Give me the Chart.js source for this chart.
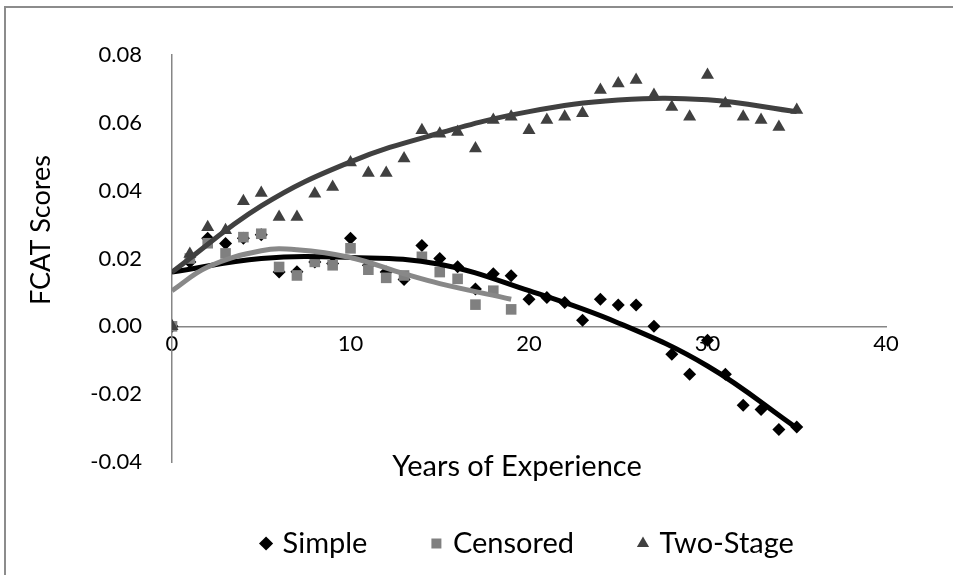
<!DOCTYPE html>
<html lang="en">
<head>
    <meta charset="UTF-8">
    <title>FCAT Scores - Years of Experience</title>
    <script src="https://cdn.jsdelivr.net/npm/chart.js"></script>
    <style>
        html, body { margin: 0; padding: 0; overflow: hidden; background: #fff; }
        .moldura {
            position: absolute; left: 4px; top: 6px;
            width: 1000px; height: 1000px;
            border: 2px solid #8c8c8c;
        }
        .grafico { position: absolute; left: 0; top: 0; width: 953px; height: 575px; }
    </style>
</head>
<body>
    <div class="moldura"></div>
    <div class="grafico">
        <canvas id="myChart"></canvas>
    </div>
<script>
    // values
    const anos = [0, 1, 2, 3, 4, 5, 6, 7, 8, 9, 10, 11, 12, 13, 14, 15, 16, 17,
        18, 19, 20, 21, 22, 23, 24, 25, 26, 27, 28, 29, 30, 31, 32, 33, 34, 35];
    const simple = [0, 0.019, 0.026, 0.0244, 0.026, 0.027, 0.016, 0.0161, 0.019, 0.0185,
        0.026, 0.018, 0.016, 0.0138, 0.0238, 0.020, 0.0176, 0.011, 0.0155, 0.0149,
        0.008, 0.0085, 0.007, 0.0018, 0.008, 0.0063, 0.0063, 0.0, -0.0082, -0.0141,
        -0.0041, -0.0141, -0.0233, -0.0245, -0.0304, -0.0297];
    const anosCensored = [0, 1, 2, 3, 4, 5, 6, 7, 8, 9, 10, 11, 12, 13, 14, 15, 16, 17, 18, 19];
    const censored = [0, 0.020, 0.0245, 0.0215, 0.0263, 0.0273, 0.0175, 0.015, 0.019, 0.018,
        0.023, 0.0167, 0.0143, 0.015, 0.0205, 0.016, 0.014, 0.0064, 0.0105, 0.005];
    const twoStage = [0, 0.0213, 0.0292, 0.0283, 0.0369, 0.0393, 0.0322, 0.0322, 0.0391, 0.0411,
        0.0483, 0.0452, 0.0452, 0.0495, 0.0578, 0.0568, 0.0573, 0.0524, 0.0608, 0.0618,
        0.0578, 0.0608, 0.0618, 0.0628, 0.0697, 0.0716, 0.0726, 0.0682, 0.0647, 0.0618,
        0.0741, 0.0657, 0.0618, 0.0608, 0.0588, 0.0638];

    // trend lines, also
    const tendX = [0, 5, 10, 15, 20, 25, 30, 35];
    const tendSimple = [0.016, 0.0200, 0.0203, 0.0183, 0.0105, 0.001, -0.0117, -0.030];
    const tendCensoredX = [0, 2, 5, 7, 10, 13, 15, 19];
    const tendCensored = [0.0105, 0.0175, 0.0223, 0.0226, 0.0203, 0.0155, 0.0126, 0.008];
    const tendTwoStage = [0.016, 0.0355, 0.0485, 0.0570, 0.0633, 0.0667, 0.0668, 0.0633];

    const nomes = ['Simple', 'Censored', 'Two-Stage'];
    const tituloEixoX = 'Years of Experience';
    const tituloEixoY = 'FCAT Scores';
    const fonte = 'Lato';

    function pontos(xs, ys) {
        return xs.map((x, i) => ({ x: x, y: ys[i] }));
    }

    // axis titles sit where the original put them, not centred on the axis
    const titulos = {
        id: 'titulos',
        afterDraw(chart) {
            const ctx = chart.ctx;
            const area = chart.chartArea;
            ctx.save();
            ctx.fillStyle = '#000';
            ctx.textAlign = 'center';
            ctx.textBaseline = 'middle';
            ctx.font = '29px ' + fonte;
            ctx.fillText(tituloEixoX, (area.left + area.right) / 2 - 12, area.bottom + 5);
            ctx.translate(41, area.top + 175);
            ctx.rotate(-Math.PI / 2);
            ctx.font = '27px ' + fonte;
            ctx.fillText(tituloEixoY, 0, 0);
            ctx.restore();
        }
    };

    const data = {
        datasets: [{
            label: nomes[0],
            data: pontos(anos, simple),
            pointStyle: 'rectRot',
            pointRadius: 6.5,
            backgroundColor: '#000000',
            borderWidth: 0,
            order: 6
        }, {
            label: nomes[1],
            data: pontos(anosCensored, censored),
            pointStyle: 'rect',
            pointRadius: 7.5,
            backgroundColor: '#808080',
            borderWidth: 0,
            order: 5
        }, {
            label: nomes[2],
            data: pontos(anos, twoStage),
            pointStyle: 'triangle',
            pointRadius: 7.5,
            backgroundColor: '#404040',
            borderWidth: 0,
            order: 4
        }, {
            label: 'tend simple',
            data: pontos(tendX, tendSimple),
            showLine: true,
            tension: 0.4,
            pointRadius: 0,
            borderColor: '#000000',
            borderWidth: 5,
            order: 3
        }, {
            label: 'tend censored',
            data: pontos(tendCensoredX, tendCensored),
            showLine: true,
            tension: 0.4,
            pointRadius: 0,
            borderColor: '#888888',
            borderWidth: 5,
            order: 2
        }, {
            label: 'tend two-stage',
            data: pontos(tendX, tendTwoStage),
            showLine: true,
            tension: 0.4,
            pointRadius: 0,
            borderColor: '#404040',
            borderWidth: 5,
            order: 1
        }]
    };

    const config = {
        type: 'scatter',
        data: data,
        plugins: [titulos],
        options: {
            responsive: true,
            maintainAspectRatio: false,
            animation: false,
            layout: { padding: { left: 26, right: 67, top: 55, bottom: 7 } },
            scales: {
                x: {
                    type: 'linear',
                    position: { y: 0 },
                    min: 0,
                    max: 40,
                    ticks: { stepSize: 10, padding: 4, color: '#000', font: { family: fonte, size: 22 } },
                    grid: { display: false, drawTicks: false },
                    border: { display: true, color: '#868686', width: 1.5 }
                },
                y: {
                    min: -0.04,
                    max: 0.08,
                    ticks: {
                        stepSize: 0.02,
                        padding: 30,
                        color: '#000',
                        font: { family: fonte, size: 22 },
                        callback: v => v.toFixed(2)
                    },
                    grid: { display: false, drawTicks: false },
                    border: { display: true, color: '#868686', width: 1.5 },
                    afterFit: s => { s.width = 146; }
                }
            },
            plugins: {
                legend: {
                    position: 'bottom',
                    fullSize: false,
                    labels: {
                        usePointStyle: true,
                        boxWidth: 4,
                        boxHeight: 10,
                        padding: 67,
                        color: '#000',
                        font: { family: fonte, size: 29 },
                        filter: item => item.datasetIndex < 3,
                        sort: (a, b) => a.datasetIndex - b.datasetIndex
                    }
                },
                tooltip: { enabled: false }
            }
        }
    };

    const myChart = new Chart(document.getElementById('myChart'), config);
</script>
</body>
</html>
